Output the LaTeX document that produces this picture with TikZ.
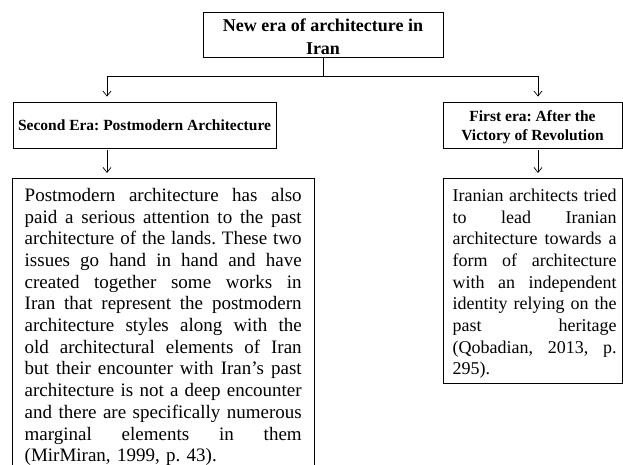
\documentclass[tikz,border=0pt]{standalone}
\usepackage{fontspec}
\setmainfont{Liberation Serif}
\usetikzlibrary{arrows.meta}
\frenchspacing
\newcommand{\jline}[1]{\hbox to \hsize{\strut\spaceskip=0.25em plus 1fil\relax #1}}
\newcommand{\lline}[1]{\hbox to \hsize{\strut #1\hfil}}
\begin{document}
\begin{tikzpicture}[x=1pt,y=1pt,
  box/.style={draw=black, line width=0.8pt, inner sep=0pt},
  conn/.style={draw=black, line width=0.7pt},
  arr/.style={conn, -{Straight Barb[length=5pt,width=8pt]}},
  titletext/.style={font=\fontsize{18}{22.8}\selectfont\bfseries\frenchspacing, align=center, inner sep=0pt},
  headtext/.style={font=\fontsize{15.5}{19}\selectfont\bfseries\frenchspacing, align=center, inner sep=0pt},
  bodyL/.style={anchor=north west, inner sep=0pt, text width=277pt, font=\fontsize{19}{21.7}\selectfont\frenchspacing},
  bodyR/.style={anchor=north west, inner sep=0pt, text width=164pt, font=\fontsize{18}{21.7}\selectfont\frenchspacing}]
\clip (0,0) rectangle (623,465);
\node[box, minimum width=240pt, minimum height=45pt] (top) at (323,430.5) {};
\node[titletext] (toplabel) at ([yshift=-2pt]top.center) {New era of architecture in\\Iran};
\node[box, minimum width=263pt, minimum height=46pt] (se) at (144.5,340) {};
\node[headtext] (selabel) at (se.center) {Second Era: Postmodern Architecture};
\node[box, minimum width=179pt, minimum height=46pt] (fe) at (532.5,340) {};
\node[headtext] (felabel) at ([yshift=-2.5pt]fe.center) {First era: After the\\Victory of Revolution};
\node[box, minimum width=302pt, minimum height=300pt, anchor=north west] (lb) at (12,287) {};
\node[box, minimum width=179pt, minimum height=205pt, anchor=north west] (rb) at (443,287) {};
\node[bodyL] (lt) at ([xshift=12.5pt,yshift=-8pt]lb.north west) {%
\jline{Postmodern architecture has also}
\jline{paid a serious attention to the past}
\jline{architecture of the lands. These two}
\jline{issues go hand in hand and have}
\jline{created together some works in}
\jline{Iran that represent the postmodern}
\jline{architecture styles along with the}
\jline{old architectural elements of Iran}
\jline{but their encounter with Iran's past}
\jline{architecture is not a deep encounter}
\jline{and there are specifically numerous}
\jline{marginal elements in them}
\lline{(MirMiran, 1999, p. 43).}};
\node[bodyR] (rt) at ([xshift=9.5pt,yshift=-8pt]rb.north west) {%
\jline{Iranian architects tried}
\jline{to lead Iranian}
\jline{architecture towards a}
\jline{form of architecture}
\jline{with an independent}
\jline{identity relying on the}
\jline{past heritage}
\jline{(Qobadian, 2013, p.}
\lline{295).}};
\coordinate (j) at (323,389);
\coordinate (jl) at (107,389);
\coordinate (jr) at (538,389);
\draw[conn] (top.south) -- (j);
\draw[conn] (jl) -- (jr);
\draw[arr, shorten >=5pt] (jl) -- (jl |- se.north);
\draw[arr, shorten >=5pt] (jr) -- (jr |- fe.north);
\draw[arr, shorten <=2pt, shorten >=5pt] (jl |- se.south) -- (jl |- lb.north);
\draw[arr, shorten <=2pt, shorten >=5pt] (jr |- fe.south) -- (jr |- rb.north);
\end{tikzpicture}
\end{document}
